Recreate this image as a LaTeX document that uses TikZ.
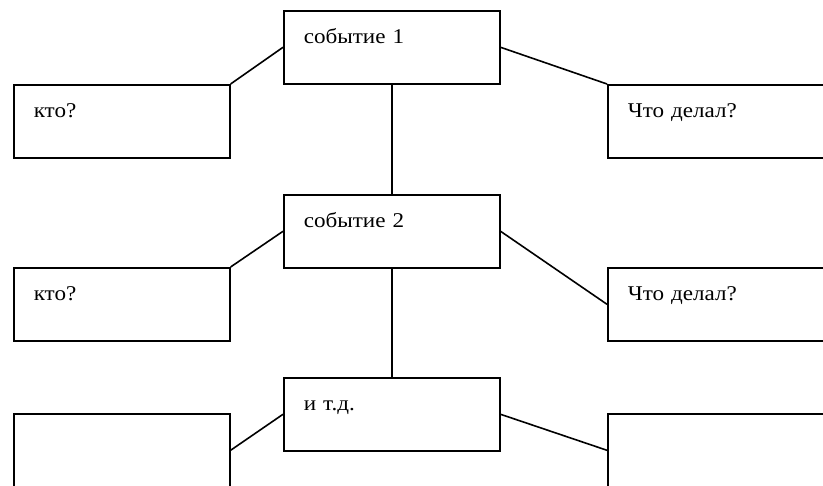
\documentclass[tikz,border=0pt]{standalone}
\usepackage{fontspec}
\setmainfont[FakeStretch=1.1]{Liberation Serif}
\begin{document}
\begin{tikzpicture}[x=1pt,y=-1pt,
  box/.style={draw, line width=1.6pt, anchor=north west, inner xsep=20pt, inner ysep=0pt,
    text width=176pt, align=left, text height=33pt, text depth=40pt,
    font=\fontsize{21}{25}\selectfont},
  link/.style={line width=1.6pt}]
\clip (0,0) rectangle (823,486);
\fill[white] (0,0) rectangle (823,486);
% events in the middle column
\node[box] (e1) at (283,10)  {событие 1};
\node[box] (e2) at (283,194) {событие 2};
\node[box] (e3) at (283,377) {и т.д.};
% side boxes
\node[box] (w1) at (13,84)   {кто?};
\node[box] (a1) at (607,84)  {Что делал?};
\node[box] (w2) at (13,267)  {кто?};
\node[box] (a2) at (607,267) {Что делал?};
\node[box] (w3) at (13,413)  {};
\node[box] (a3) at (607,413) {};
% connectors
\draw[link] (e1.south) -- (e2.north);
\draw[link] (e2.south) -- (e3.north);
\draw[link] (e1.west) -- (w1.north east);
\draw[link] (e1.east) -- (a1.north west);
\draw[link] (e2.west) -- (w2.north east);
\draw[link] (e2.east) -- (a2.west);
\draw[link] (e3.west) -- (w3.east);
\draw[link] (e3.east) -- (a3.west);
\end{tikzpicture}
\end{document}
